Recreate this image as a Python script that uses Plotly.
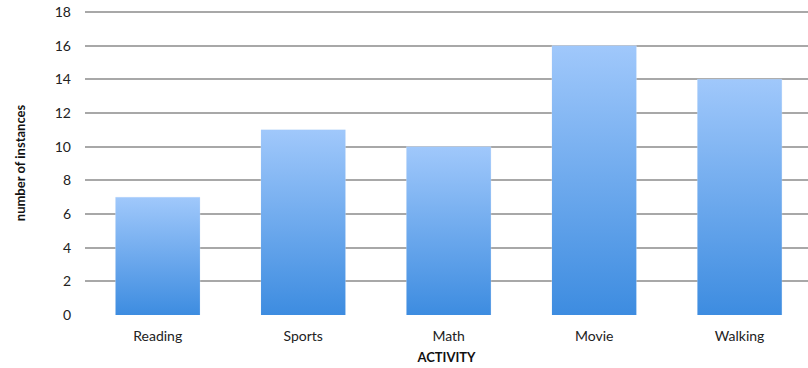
import plotly.graph_objects as go

categories = ["Reading", "Sports", "Math", "Movie", "Walking"]
instances = [7, 11, 10, 16, 14]
y_ticks = [0, 2, 4, 6, 8, 10, 12, 14, 16, 18]

BAR_WIDTH = 0.58
TOP_COLOR = "#a0c8fb"
BOTTOM_COLOR = "#3d8ce0"

fig = go.Figure()

# Each column is a filled rectangle with a vertical gradient running from its
# base (darker) to its top (lighter).
for i, (name, value) in enumerate(zip(categories, instances)):
    half = BAR_WIDTH / 2
    xs = [i - half, i - half, i + half, i + half, i - half]
    ys = [0, value, value, 0, 0]
    fig.add_trace(go.Scatter(
        x=xs, y=ys,
        mode="lines",
        line=dict(width=0),
        fill="toself",
        fillgradient=dict(
            type="vertical",
            start=0,
            stop=value,
            colorscale=[[0, BOTTOM_COLOR], [1, TOP_COLOR]],
        ),
        name=name,
        hoverinfo="skip",
        showlegend=False,
    ))

# Invisible bar trace keeps hover values for each activity.
fig.add_trace(go.Bar(
    x=list(range(len(categories))), y=instances,
    marker=dict(color="rgba(0,0,0,0)"),
    width=BAR_WIDTH,
    hovertext=categories,
    showlegend=False,
))

font_family = "Lato, 'Open Sans', sans-serif"

fig.update_layout(
    width=808, height=368,
    margin=dict(l=85, r=0, t=11, b=53),
    paper_bgcolor="white",
    plot_bgcolor="white",
    font=dict(family=font_family, size=14, color="#222222"),
    xaxis=dict(
        range=[-0.5, 4.47],
        tickmode="array",
        tickvals=list(range(len(categories))),
        ticktext=categories,
        showgrid=False,
        zeroline=False,
        showline=False,
        ticks="",
        ticklabelstandoff=11,
        tickfont=dict(size=14, color="#222222"),
        title=dict(text="<b>ACTIVITY</b>", font=dict(size=13, color="#111111"),
                   standoff=9),
    ),
    yaxis=dict(
        range=[0, 18.06],
        tickmode="array",
        tickvals=y_ticks,
        showgrid=True,
        gridcolor="#a8a8a8",
        gridwidth=1.5,
        zeroline=False,
        showline=False,
        ticks="",
        ticklabelstandoff=13,
        tickfont=dict(size=14, color="#222222"),
        title=dict(text="<b>number of instances</b>",
                   font=dict(size=13, color="#111111"), standoff=26),
    ),
)

fig.write_html("out.html")
